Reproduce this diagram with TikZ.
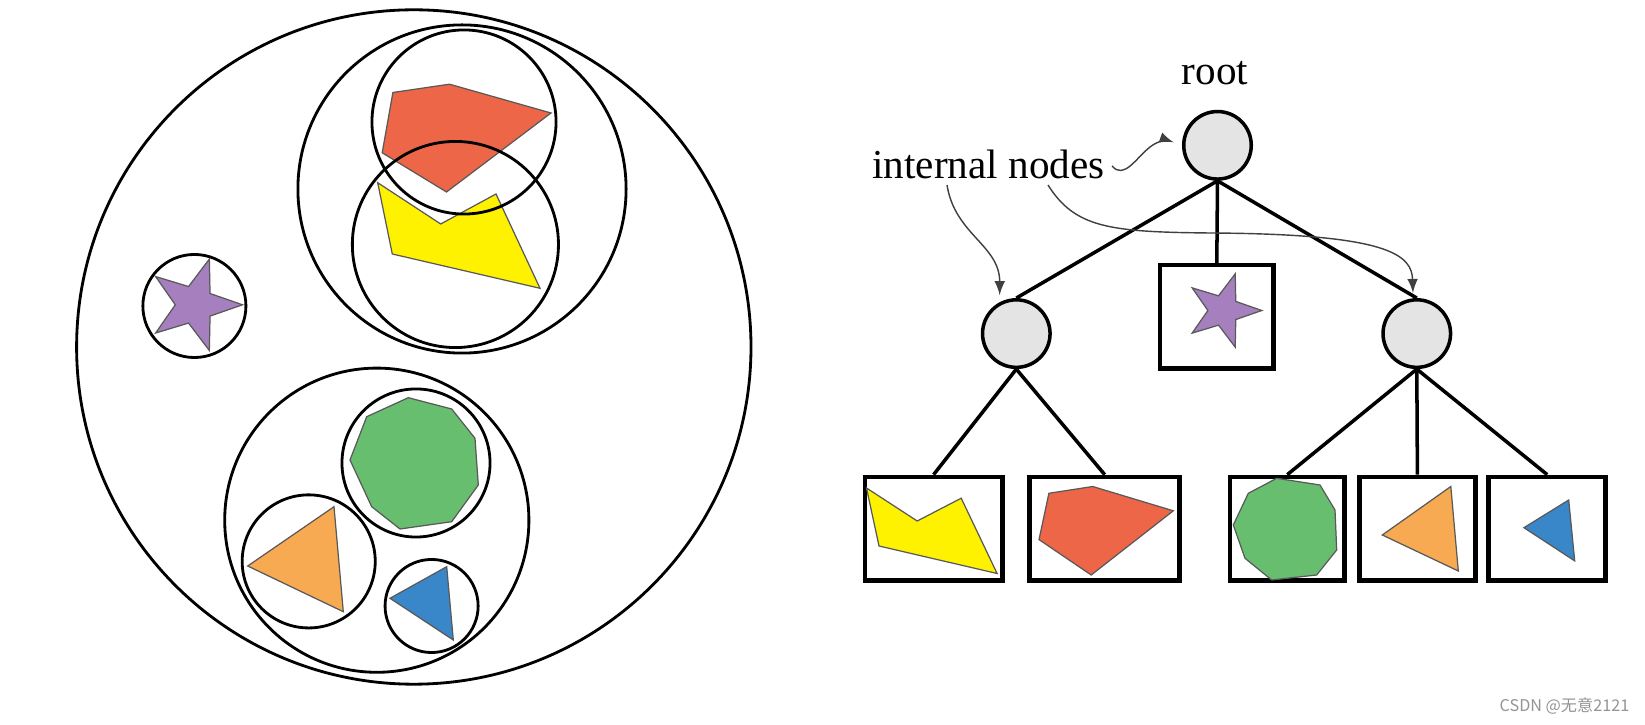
\documentclass[tikz,border=0pt]{standalone}
\usepackage{fontspec}
\setmainfont{Liberation Serif}
\newfontfamily\cjkfont{Noto Sans CJK SC}
\usetikzlibrary{shapes.geometric}
\definecolor{redpoly}{RGB}{237,102,72}
\definecolor{yellowpoly}{RGB}{255,242,0}
\definecolor{purplestar}{RGB}{166,127,190}
\definecolor{greenpoly}{RGB}{103,190,110}
\definecolor{orangetri}{RGB}{247,170,82}
\definecolor{bluetri}{RGB}{57,135,200}
\definecolor{nodegray}{RGB}{228,228,228}
\tikzset{
  ringline/.style={line width=0.8pt},
  poly/.style={draw=black!65, line width=0.35pt},
  starpoly/.style={star, star points=5, star point ratio=2.5, rotate=-18, poly, fill=purplestar, inner sep=0pt},
  intnode/.style={circle, draw, line width=1pt, fill=nodegray, minimum size=0.675cm, inner sep=0pt},
  leafbox/.style={rectangle, draw, line width=1.3pt, minimum height=1.035cm, inner sep=0pt},
  branch/.style={line width=1pt},
  notearrow/.style={-latex, black!75, line width=0.4pt},
  labeltext/.style={font=\fontsize{11.7pt}{14pt}\selectfont, inner sep=1pt}
}
\begin{document}
\begin{tikzpicture}[x=0.01cm, y=-0.01cm]
\fill [white] (0,0) rectangle (1645,725);
\useasboundingbox (0,0) rectangle (1645,725);
%% left: nested balls
\draw [poly, fill=redpoly] (392.9,92.5)--(449.5,84.2)--(551,113)--(446.5,192)--(382.2,152.8)--cycle;
\draw [poly, fill=yellowpoly] (377.7,182.7)--(440.7,224)--(496,194)--(540,288.3)--(392.3,254)--cycle;
\node [starpoly, minimum size=0.96cm] (starl) at (194.5,304.8) {};
\draw [poly, fill=greenpoly] (408.3,397.7)--(451.7,409)--(475,438.3)--(478.3,485)--(451.7,521.7)--(400,529)--(371.7,506.7)--(350,460)--(366.7,416.7)--cycle;
\draw [poly, fill=orangetri] (334,506.7)--(343.3,611.7)--(247.7,566)--cycle;
\draw [poly, fill=bluetri] (446.7,566.7)--(453.3,640)--(390,598.3)--cycle;
\draw [ringline] (413.8,347) circle (3.37cm);
\draw [ringline] (462,189) circle (1.64cm);
\draw [ringline] (464,122) circle (0.92cm);
\draw [ringline] (455.4,244.5) circle (1.03cm);
\draw [ringline] (194.4,306) circle (0.515cm);
\draw [ringline] (376.8,520.2) circle (1.52cm);
\draw [ringline] (416,463) circle (0.74cm);
\draw [ringline] (308.7,561.4) circle (0.665cm);
\draw [ringline] (431.6,606) circle (0.465cm);
%% right: the tree
\node [labeltext, anchor=base] (rootlabel) at (1215,84.6) {root};
\node [labeltext, anchor=base] (intlabel) at (988.5,178.3) {internal nodes};
\node [intnode] (root) at (1217.5,145.3) {};
\node [intnode] (inl) at (1016.3,333.6) {};
\node [intnode] (inr) at (1416.8,333.6) {};
\node [leafbox, minimum width=1.135cm] (starbox) at (1216.8,317) {};
\node [leafbox, minimum width=1.375cm] (yleaf) at (933.6,528.7) {};
\node [leafbox, minimum width=1.5cm] (rleaf) at (1104.7,528.7) {};
\node [leafbox, minimum width=1.145cm] (gleaf) at (1287.3,528.7) {};
\node [leafbox, minimum width=1.16cm] (oleaf) at (1417.4,528.7) {};
\node [leafbox, minimum width=1.17cm] (bleaf) at (1547.2,528.7) {};
\draw [branch] (root.south) -- (inl.north);
\draw [branch] (root.south) -- (starbox.north);
\draw [branch] (root.south) -- (inr.north);
\draw [branch] (inl.south) -- (yleaf.north);
\draw [branch] (inl.south) -- (rleaf.north);
\draw [branch] (inr.south) -- (gleaf.north);
\draw [branch] (inr.south) -- (oleaf.north);
\draw [branch] (inr.south) -- (bleaf.north);
% leaf contents
\node [starpoly, minimum size=0.77cm] (starr) at (1223.3,310.5) {};
\draw [poly, fill=yellowpoly] (866.5,488)--(917.2,521)--(961.2,498.2)--(997.1,573.5)--(879,546)--cycle;
\draw [poly, fill=redpoly] (1048.9,493.3)--(1092.7,486.5)--(1173.3,510.8)--(1091.2,575)--(1039,539.6)--cycle;
\draw [poly, fill=greenpoly] (1276.7,478.3)--(1320,485)--(1335,510)--(1336.7,550)--(1316.7,575)--(1271.7,580)--(1245,558.3)--(1233.3,525)--(1248.3,493.3)--cycle;
\draw [poly, fill=orangetri] (1450.8,486.5)--(1458.3,571)--(1382.3,535)--cycle;
\draw [poly, fill=bluetri] (1568.7,500)--(1574.7,560.9)--(1523.9,527.7)--cycle;
% pointers from the label
\coordinate (tailA) at (1112,166);
\coordinate (tailB) at (947,185);
\coordinate (tailC) at (1048,185);
\draw [notearrow, shorten >=2.5pt] (tailA) .. controls (1124,180) and (1136,158) .. (1150,147) .. controls (1160,139) and (1170,141) .. (root.west);
\draw [notearrow, shorten >=2pt] (tailB) .. controls (955,235) and (1000,245) .. (inl.118);
\draw [notearrow, shorten >=1.5pt] (tailC) .. controls (1075,228) and (1110,232) .. (1210,233) .. controls (1390,234) and (1412,255) .. (inr.96);
\node [anchor=base west, text=black!42, font=\cjkfont\fontsize{4.6pt}{5pt}\selectfont, inner sep=0pt] (mark) at (1499,711.7) {CSDN @无意2121};
\end{tikzpicture}
\end{document}
